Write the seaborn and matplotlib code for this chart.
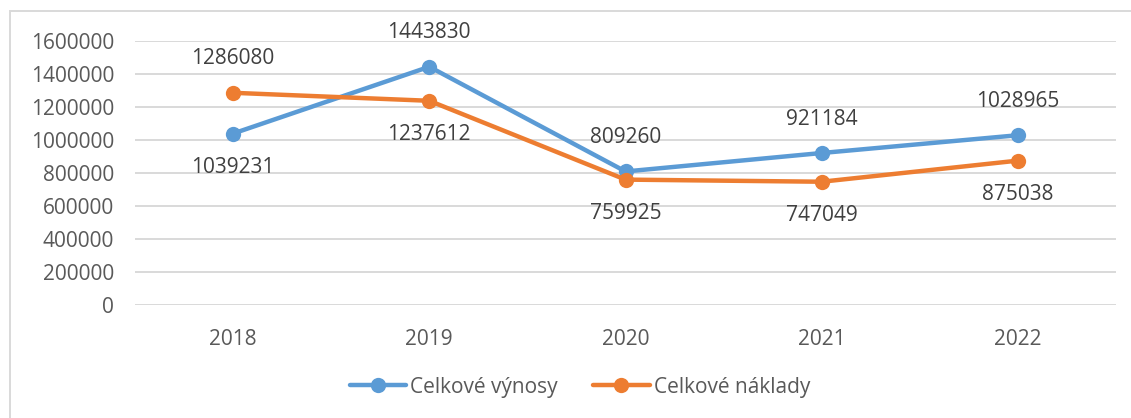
import matplotlib
matplotlib.use("Agg")
import matplotlib.pyplot as plt
from matplotlib.patches import Rectangle
import pandas as pd
import seaborn as sns

years = ["2018", "2019", "2020", "2021", "2022"]
vynosy = [1039231, 1443830, 809260, 921184, 1028965]
naklady = [1286080, 1237612, 759925, 747049, 875038]
series_names = ["Celkové výnosy", "Celkové náklady"]
# label placement per point: +1 above, -1 below
vynosy_pos = [-1, 1, 1, 1, 1]
naklady_pos = [1, -1, -1, -1, -1]

BLUE = "#5B9BD5"
ORANGE = "#ED7D31"
GREY_TXT = "#595959"
FS = 15

sns.set_theme(style="white")
plt.rcParams["font.family"] = ["Open Sans", "DejaVu Sans"]

df = pd.DataFrame({
    "rok": years * 2,
    "hodnota": vynosy + naklady,
    "serie": [series_names[0]] * len(years) + [series_names[1]] * len(years),
})

fig = plt.figure(figsize=(11.31, 4.18), dpi=100)
ax = fig.add_axes([135 / 1131, 113 / 418, (1116 - 135) / 1131, (305 - 41) / 418])

sns.lineplot(data=df, x="rok", y="hodnota", hue="serie", hue_order=series_names,
             palette=[BLUE, ORANGE], marker="o", markersize=11, markeredgewidth=0,
             linewidth=3.2, sort=False, ax=ax, legend=False)

for vals, pos in [(vynosy, vynosy_pos), (naklady, naklady_pos)]:
    for i, (v, p) in enumerate(zip(vals, pos)):
        ax.annotate(str(v), (i, v), xytext=(0, 34 * p), textcoords="offset pixels",
                    ha="center", va="center", fontsize=FS, color="#404040")

ax.set_ylim(0, 1600000)
ax.set_yticks(range(0, 1600001, 200000))
ax.set_yticklabels([str(t) for t in range(0, 1600001, 200000)])
ax.set_xlim(-0.5, 4.5)
ax.set_xlabel("")
ax.set_ylabel("")
ax.grid(axis="y", color="#d9d9d9", linewidth=1.4)
ax.set_axisbelow(True)
for s in ax.spines.values():
    s.set_visible(False)
ax.tick_params(axis="y", length=0, pad=15, labelsize=FS, labelcolor=GREY_TXT)
ax.tick_params(axis="x", length=0, pad=17, labelsize=FS, labelcolor=GREY_TXT)

handles = [
    plt.Line2D([], [], color=BLUE, lw=3.2, marker="o", markersize=11, markeredgewidth=0),
    plt.Line2D([], [], color=ORANGE, lw=3.2, marker="o", markersize=11, markeredgewidth=0),
]
leg = fig.legend(handles, series_names, loc="center", bbox_to_anchor=(580 / 1131, 1 - 387 / 418),
                 ncol=2, frameon=False, handlelength=2.7, handletextpad=0.2, columnspacing=1.7,
                 fontsize=FS)
for t in leg.get_texts():
    t.set_color(GREY_TXT)

# chart area border
fig.patches.append(Rectangle((10 / 1131, -0.05), 1.1, 1 - 11 / 418 + 0.05,
                             transform=fig.transFigure, fill=False,
                             edgecolor="#d9d9d9", linewidth=1.4))

fig.savefig("out.png", dpi=100)
